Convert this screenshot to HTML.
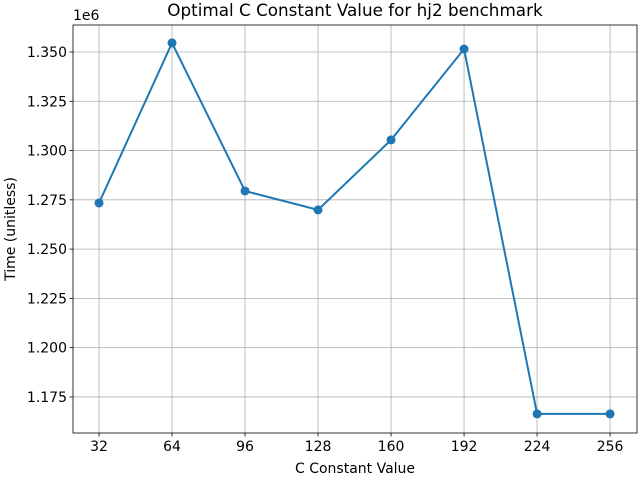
<!DOCTYPE html>
<html><head><meta charset="utf-8"><style>
body{margin:0;background:#fff;}
svg text{font-family:"DejaVu Sans","Liberation Sans",sans-serif;fill:#000;}
</style></head><body>
<svg id="chart" width="640" height="480" xmlns="http://www.w3.org/2000/svg">
<rect width="640" height="480" fill="#fff"/>
<g id="grid"></g>
<g id="axes"></g>
<g id="series"></g>
<text x="355" y="16" font-size="16.8" text-anchor="middle">Optimal C Constant Value for hj2 benchmark</text>
<text x="355" y="473" font-size="14" text-anchor="middle">C Constant Value</text>
<text x="15" y="229" font-size="14" text-anchor="middle" transform="rotate(-90 15 229)">Time (unitless)</text>
<text x="73" y="20" font-size="14">1e6</text>
</svg>
<script>
const categories=[32,64,96,128,160,192,224,256];
const times=[1.2734,1.3546,1.2795,1.2699,1.3054,1.3515,1.1664,1.1664];
const yTicks=[1.175,1.200,1.225,1.250,1.275,1.300,1.325,1.350];
const yTickLabels=["1.175","1.200","1.225","1.250","1.275","1.300","1.325","1.350"];
const L=73,R=637,T=25,B=433;
const xMin=20.6,xMax=267.8,yMin=1.1567,yMax=1.3637;
const xs=v=>L+(v-xMin)/(xMax-xMin)*(R-L);
const ys=v=>B-(v-yMin)/(yMax-yMin)*(B-T);
const NS="http://www.w3.org/2000/svg";
function mk(tag,attrs,parent){const e=document.createElementNS(NS,tag);for(const k in attrs)e.setAttribute(k,attrs[k]);parent.appendChild(e);return e;}
const grid=document.getElementById('grid'),axes=document.getElementById('axes'),series=document.getElementById('series');
categories.forEach(c=>{
  const x=xs(c);
  const g=mk('line',{x1:x,x2:x,y1:T,y2:B,stroke:'#b0b0b0','stroke-width':0.8},grid);
  
  
  const t=mk('line',{x1:x,x2:x,y1:B,y2:B+3.5,stroke:'#000','stroke-width':0.8},axes);
  
  
  const lb=mk('text',{x:x,y:B+18,'font-size':14,'text-anchor':'middle'},axes);
  lb.textContent=c;
  
  
});
yTicks.forEach((v,i)=>{
  const y=ys(v);
  const g=mk('line',{x1:L,x2:R,y1:y,y2:y,stroke:'#b0b0b0','stroke-width':0.8},grid);
  
  
  const t=mk('line',{x1:L-3.5,x2:L,y1:y,y2:y,stroke:'#000','stroke-width':0.8},axes);
  
  
  const lb=mk('text',{x:L-6,y:y+5,'font-size':14,'text-anchor':'end'},axes);
  lb.textContent=yTickLabels[i];
  
  
});
const frame=mk('rect',{x:L,y:T,width:R-L,height:B-T,fill:'none',stroke:'#000','stroke-width':0.8},axes);


const pts=categories.map((c,i)=>xs(c)+','+ys(times[i])).join(' ');
const line=mk('polyline',{points:pts,fill:'none',stroke:'#1f77b4','stroke-width':2},series);


categories.forEach((c,i)=>{
  const p=mk('circle',{cx:xs(c),cy:ys(times[i]),r:4.5,fill:'#1f77b4'},series);
  
  
});
</script>
</body></html>
